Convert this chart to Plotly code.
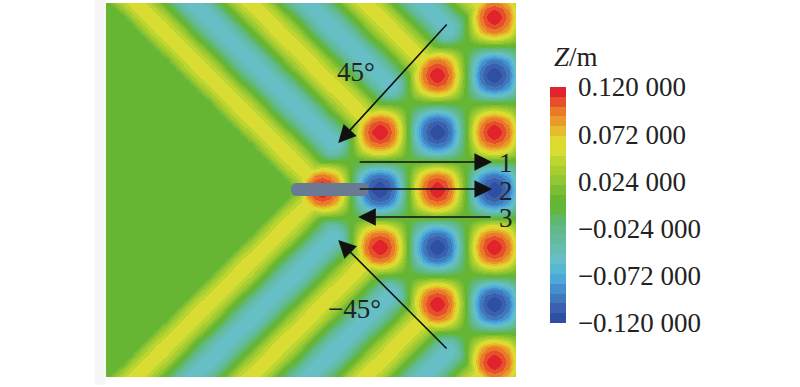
import plotly.graph_objects as go

col_pos = [c / 2 for c in range(-30, 29)]
row_pos = [r / 2 for r in range(-28, 29)]

row_00 = [0]*27 + [56,94,112,120,112,94,56,0,-56,-94,-112,-120,-112,-94,-56,0,56,94,112,120,112,94,56,0,-56,-94,-112,-120,-112,-94,-56,0]
row_01 = [0]*26 + [23,42] + [88,105,112,105,88,50,0,-50,-88,-105,-112,-105,-88,-50,0,50,88,105,112,105,88,50,0,-50,-88,-105,-112,-105,-88,-50,0]
row_02 = [0]*25 + [23,42,55,60] + [88,94,88,72,38,0,-38,-72,-88,-94,-88,-72,-38,0,38,72,88,94,88,72,38,0,-38,-72,-88,-94,-88,-72,-38,0]
row_03 = [0]*24 + [23,42,55,60,55,42] + [56,50,38,22,0,-22,-38,-50,-56,-50,-38,-22,0,22,38,50,56,50,38,22,0,-22,-38,-50,-56,-50,-38,-22,0]
row_04 = [0]*23 + [23,42,55,60,55,42,23,0] + [0]*28
row_05 = [0]*22 + [23,42,55,60,55,42,23,0,-23,-42] + [-38,-22,0,22,38,50,56,50,38,22,0,-22,-38,-50,-56,-50,-38,-22,0,22,38,50,56,50,38,22,0]
row_06 = [0]*21 + [23,42,55,60,55,42,23,0,-23,-42,-55,-60] + [-38,0,38,72,88,94,88,72,38,0,-38,-72,-88,-94,-88,-72,-38,0,38,72,88,94,88,72,38,0]
row_07 = [0]*20 + [23,42,55,60,55,42,23,0,-23,-42,-55,-60,-55,-42] + [0,50,88,105,112,105,88,50,0,-50,-88,-105,-112,-105,-88,-50,0,50,88,105,112,105,88,50,0]
row_08 = [0]*19 + [23,42,55,60,55,42,23,0,-23,-42,-55,-60,-55,-42,-23,0] + [56,94,112,120,112,94,56,0,-56,-94,-112,-120,-112,-94,-56,0,56,94,112,120,112,94,56,0]
row_09 = [0]*18 + [23,42,55,60,55,42,23,0,-23,-42,-55,-60,-55,-42,-23,0,23,42] + [88,105,112,105,88,50,0,-50,-88,-105,-112,-105,-88,-50,0,50,88,105,112,105,88,50,0]
row_10 = [0]*17 + [23,42,55,60,55,42,23,0,-23,-42,-55,-60,-55,-42,-23,0,23,42,55,60] + [88,94,88,72,38,0,-38,-72,-88,-94,-88,-72,-38,0,38,72,88,94,88,72,38,0]
row_11 = [0]*16 + [23,42,55,60,55,42,23,0,-23,-42,-55,-60,-55,-42,-23,0,23,42,55,60,55,42] + [56,50,38,22,0,-22,-38,-50,-56,-50,-38,-22,0,22,38,50,56,50,38,22,0]
row_12 = [0]*15 + [23,42,55,60,55,42,23,0,-23,-42,-55,-60,-55,-42,-23,0,23,42,55,60,55,42,23,0] + [0]*20
row_13 = [0]*14 + [23,42,55,60,55,42,23,0,-23,-42,-55,-60,-55,-42,-23,0,23,42,55,60,55,42,23,0,-23,-42] + [-38,-22,0,22,38,50,56,50,38,22,0,-22,-38,-50,-56,-50,-38,-22,0]
row_14 = [0]*13 + [23,42,55,60,55,42,23,0,-23,-42,-55,-60,-55,-42,-23,0,23,42,55,60,55,42,23,0,-23,-42,-55,-60] + [-38,0,38,72,88,94,88,72,38,0,-38,-72,-88,-94,-88,-72,-38,0]
row_15 = [0]*12 + [23,42,55,60,55,42,23,0,-23,-42,-55,-60,-55,-42,-23,0,23,42,55,60,55,42,23,0,-23,-42,-55,-60,-55,-42] + [0,50,88,105,112,105,88,50,0,-50,-88,-105,-112,-105,-88,-50,0]
row_16 = [0]*11 + [23,42,55,60,55,42,23,0,-23,-42,-55,-60,-55,-42,-23,0,23,42,55,60,55,42,23,0,-23,-42,-55,-60,-55,-42,-23,0] + [56,94,112,120,112,94,56,0,-56,-94,-112,-120,-112,-94,-56,0]
row_17 = [0]*10 + [23,42,55,60,55,42,23,0,-23,-42,-55,-60,-55,-42,-23,0,23,42,55,60,55,42,23,0,-23,-42,-55,-60,-55,-42,-23,0,23,42] + [88,105,112,105,88,50,0,-50,-88,-105,-112,-105,-88,-50,0]
row_18 = [0]*9 + [23,42,55,60,55,42,23,0,-23,-42,-55,-60,-55,-42,-23,0,23,42,55,60,55,42,23,0,-23,-42,-55,-60,-55,-42,-23,0,23,42,55,60] + [88,94,88,72,38,0,-38,-72,-88,-94,-88,-72,-38,0]
row_19 = [0]*8 + [23,42,55,60,55,42,23,0,-23,-42,-55,-60,-55,-42,-23,0,23,42,55,60,55,42,23,0,-23,-42,-55,-60,-55,-42,-23,0,23,42,55,60,55,42] + [56,50,38,22,0,-22,-38,-50,-56,-50,-38,-22,0]
row_20 = [0]*7 + [23,42,55,60,55,42,23,0,-23,-42,-55,-60,-55,-42,-23,0,23,42,55,60,55,42,23,0,-23,-42,-55,-60,-55,-42,-23,0,23,42,55,60,55,42,23,0] + [0]*12
row_21 = [0]*6 + [23,42,55,60,55,42,23,0,-23,-42,-55,-60,-55,-42,-23,0,23,42,55,60,55,42,23,0,-23,-42,-55,-60,-55,-42,-23,0,23,42,55,60,55,42,23,0,-23,-42] + [-38,-22,0,22,38,50,56,50,38,22,0]
row_22 = [0]*5 + [23,42,55,60,55,42,23,0,-23,-42,-55,-60,-55,-42,-23,0,23,42,55,60,55,42,23,0,-23,-42,-55,-60,-55,-42,-23,0,23,42,55,60,55,42,23,0,-23,-42,-55,-60] + [-38,0,38,72,88,94,88,72,38,0]
row_23 = [0]*4 + [23,42,55,60,55,42,23,0,-23,-42,-55,-60,-55,-42,-23,0,23,42,55,60,55,42,23,0,-23,-42,-55,-60,-55,-42,-23,0,23,42,55,60,55,42,23,0,-23,-42,-55,-60,-55,-42] + [0,50,88,105,112,105,88,50,0]
row_24 = [0]*3 + [23,42,55,60,55,42,23,0,-23,-42,-55,-60,-55,-42,-23,0,23,42,55,60,55,42,23,0,-23,-42,-55,-60,-55,-42,-23,0,23,42,55,60,55,42,23,0,-23,-42,-55,-60,-55,-42,-23,0] + [56,94,112,120,112,94,56,0]
row_25 = [0]*2 + [23,42,55,60,55,42,23,0,-23,-42,-55,-60,-55,-42,-23,0,23,42,55,60,55,42,23,0,-23,-42,-55,-60,-55,-42,-23,0,23,42,55,60,55,42,23,0,-23,-42,-55,-60,-55,-42,-23,0,23,42] + [88,105,112,105,88,50,0]
row_26 = [0]*1 + [23,42,55,60,55,42,23,0,-23,-42,-55,-60,-55,-42,-23,0,23,42,55,60,55,42,23,0,-23,-42,-55,-60,-55,-42,-23,0,23,42,55,60,55,42,23,0,-23,-42,-55,-60,-55,-42,-23,0,23,42,55,60] + [88,94,88,72,38,0]
row_27 = [23,42,55,60,55,42,23,0,-23,-42,-55,-60,-55,-42,-23,0,23,42,55,60,55,42,23,0,-23,-42,-55,-60,-55,-42,-23,0,23,42,55,60,55,42,23,0,-23,-42,-55,-60,-55,-42,-23,0,23,42,55,60,55,42] + [56,50,38,22,0]
row_28 = [42,55,60,55,42,23,0,-23,-42,-55,-60,-55,-42,-23,0,23,42,55,60,55,42,23,0,-23,-42,-55,-60,-55,-42,-23,0,23,42,55,60,55,42,23,0,-23,-42,-55,-60,-55,-42,-23,0,23,42,55,60,55,42,23,0] + [0]*4

upper_rows = [row_28,row_27,row_26,row_25,row_24,row_23,row_22,row_21,row_20,row_19,row_18,row_17,row_16,row_15,
              row_14,row_13,row_12,row_11,row_10,row_09,row_08,row_07,row_06,row_05,row_04,row_03,row_02,row_01]
rows_top_to_bottom = upper_rows + [row_00] + upper_rows[::-1]

tick_vals = [0.12, 0.072, 0.024, -0.024, -0.072, -0.12]
tick_text = ["0.120 000", "0.072 000", "0.024 000", "\u22120.024 000", "\u22120.072 000", "\u22120.120 000"]

# 24 bands of the colour key, bottom to top
band_colors = ["#2f4fa2","#3a60ae","#4078bd","#4590cc","#4ba8d8","#58b8d4","#65bfc4","#64bdb0",
               "#63bb9c","#61b987","#5eb86c","#64b63c","#66b633","#7cbd33","#93c632","#a8cd31",
               "#bdd530","#d9dd33","#dfd830","#e6bc2a","#ea9a28","#e97a2a","#e5502a","#e1232b"]

assert all(len(r) == len(col_pos) for r in rows_top_to_bottom), [len(r) for r in rows_top_to_bottom]
z = [[v / 1000 for v in r] for r in rows_top_to_bottom]

colorscale = []
for n, c in enumerate(band_colors):
    colorscale.append([n / len(band_colors), c])
    colorscale.append([(n + 1) / len(band_colors), c])

W, H = 800, 387
L, R, T, B = 105.5, 516, 3, 377
UNIT = 14.35
CX, CY = 322, 189.5
FONT = "Liberation Serif"
SIZE = 27

def X(px): return (px - CX) / UNIT
def Y(py): return (py - CY) / UNIT
def PX(px): return (px - L) / (R - L)
def PY(py): return (B - py) / (B - T)

fig = go.Figure(go.Heatmap(
    x=col_pos, y=row_pos, z=z,
    zmin=-0.12, zmax=0.12, zsmooth="best",
    colorscale=colorscale,
    hoverinfo="skip",
    colorbar=dict(
        xref="container", yref="container",
        x=550 / W, xanchor="left", xpad=0,
        y=1 - 212 / H, yanchor="middle", ypad=0,
        lenmode="pixels", len=236, thicknessmode="pixels", thickness=16,
        outlinewidth=0, borderwidth=0,
        tickmode="array", tickvals=tick_vals, ticktext=tick_text,
        ticks="outside", ticklen=7, tickcolor="rgba(0,0,0,0)",
        tickfont=dict(family=FONT, size=SIZE, color="#222222"),
    ),
))

# wave-maker rod
rx0, rx1, ry0, ry1 = 289, 370, 183, 196
rod = (f"M {X(rx0+7)} {Y(ry0)} L {X(rx1-7)} {Y(ry0)} "
       f"C {X(rx1)} {Y(ry0)} {X(rx1)} {Y(ry1)} {X(rx1-7)} {Y(ry1)} "
       f"L {X(rx0+7)} {Y(ry1)} C {X(rx0)} {Y(ry1)} {X(rx0)} {Y(ry0)} {X(rx0+7)} {Y(ry0)} Z")
fig.add_shape(type="path", path=rod, xref="x", yref="y",
              fillcolor="#6a7a92", line=dict(width=0), layer="above")

arrows = [
    (448, 23, 338, 143),
    (448, 350, 338, 240),
    (358, 162, 492, 162),
    (358, 189, 492, 189),
    (492, 217, 358, 217),
]
for x0, y0, x1, y1 in arrows:
    fig.add_annotation(x=X(x1), y=Y(y1), ax=X(x0), ay=Y(y0), xref="x", yref="y",
                       axref="x", ayref="y", text="", showarrow=True,
                       arrowhead=2, arrowsize=2.2, arrowwidth=1.6, arrowcolor="#111111",
                       standoff=0, startstandoff=0)

labels = [
    ("1", 506, 163), ("2", 506, 191), ("3", 506, 218),
    ("45\u00b0", 356, 72), ("\u221245\u00b0", 354, 309),
]
for text, px, py in labels:
    fig.add_annotation(x=PX(px), y=PY(py), xref="paper", yref="paper", text=text,
                       showarrow=False, xanchor="center", yanchor="middle", height=26,
                       font=dict(family=FONT, size=SIZE, color="#222222"))

fig.add_annotation(x=PX(552), y=PY(57), xref="paper", yref="paper", text="<i>Z</i>/m",
                   showarrow=False, xanchor="left", yanchor="middle",
                   font=dict(family=FONT, size=SIZE, color="#222222"))

fig.update_layout(
    width=W, height=H, autosize=False,
    margin=dict(l=L, r=W - R, t=T, b=H - B, pad=0),
    paper_bgcolor="#ffffff", plot_bgcolor="#66b633",
    showlegend=False,
    xaxis=dict(range=[X(L), X(R)], visible=False, fixedrange=True),
    yaxis=dict(range=[Y(B), Y(T)], visible=False, fixedrange=True),
)
fig.add_shape(type="rect", xref="paper", yref="paper",
              x0=PX(94), x1=PX(105.5), y0=PY(385), y1=PY(0),
              fillcolor="#f7f7f7", line=dict(width=0), layer="below")

fig.write_html("out.html", post_script="document.body.style.margin='0';",
               config=dict(displayModeBar=False))
